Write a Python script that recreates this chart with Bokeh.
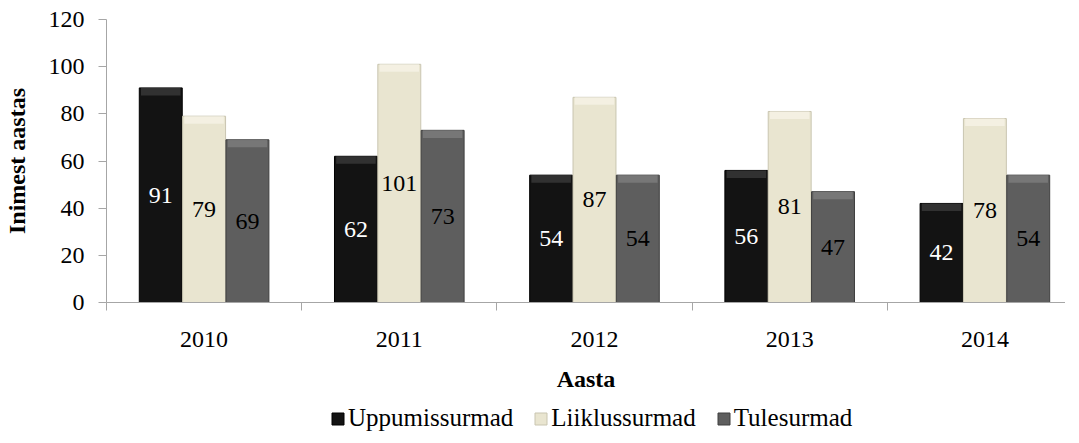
from bokeh.plotting import figure
from bokeh.models import (ColumnDataSource, Range1d, FixedTicker, Legend, LegendItem, LinearAxis)
from bokeh.layouts import column
from bokeh.core.properties import value
from bokeh.embed import file_html
from bokeh.resources import INLINE

years = ["2010", "2011", "2012", "2013", "2014"]
series_names = ["Uppumissurmad", "Liiklussurmad", "Tulesurmad"]
uppumissurmad = [91, 62, 54, 56, 42]
liiklussurmad = [79, 101, 87, 81, 78]
tulesurmad = [69, 73, 54, 47, 54]
y_ticks = [0, 20, 40, 60, 80, 100, 120]

FONT = "Liberation Serif"
colors = ["#131313", "#e9e5d0", "#5e5e5e"]
edge_colors = ["#000000", "#c9c5b0", "#3f3f3f"]
bevel_colors = ["#3a3a3a", "#f6f3e6", "#7d7d7d"]
label_colors = ["white", "black", "black"]
offsets = [-0.222, 0.0, 0.222]
bar_w = 0.22

p = figure(frame_width=959, frame_height=283, output_backend="svg", toolbar_location=None,
           x_range=Range1d(0, 4.913), y_range=Range1d(0, 120),
           min_border_left=104, min_border_right=0, min_border_top=19, min_border_bottom=87,
           x_axis_type=None, y_axis_type=None)
p.grid.visible = False
p.outline_line_color = None
p.background_fill_color = "white"
p.border_fill_color = "white"

centers = [i + 0.5 for i in range(len(years))]

for k, vals in enumerate([uppumissurmad, liiklussurmad, tulesurmad]):
    xs = [c + offsets[k] for c in centers]
    src = ColumnDataSource(dict(x=xs, top=vals, mid=[v / 2 for v in vals],
                                bev=[v - 3.2 for v in vals], lab=[str(v) for v in vals]))
    p.vbar(x="x", top="top", bottom=0, width=bar_w, source=src,
           fill_color=colors[k], line_color=edge_colors[k], line_width=1)
    p.vbar(x="x", top="top", bottom="bev", width=bar_w * 0.92, source=src,
           fill_color=bevel_colors[k], line_color=None, fill_alpha=0.8)
    p.text(x="x", y="mid", text="lab", source=src, text_align="center",
           text_baseline="middle", text_font=value(FONT), text_font_size="24px",
           text_color=label_colors[k])

yaxis = LinearAxis(ticker=FixedTicker(ticks=y_ticks), axis_label="Inimest aastas")
yaxis.axis_line_color = "#a6a6a6"
yaxis.major_tick_line_color = "#a6a6a6"
yaxis.major_tick_out = 8
yaxis.major_tick_in = 0
yaxis.minor_tick_line_color = None
yaxis.major_label_standoff = 14
yaxis.major_label_text_font = FONT
yaxis.major_label_text_font_size = "24px"
yaxis.major_label_text_color = "black"
yaxis.axis_label_text_font = FONT
yaxis.axis_label_text_font_size = "24px"
yaxis.axis_label_text_font_style = "bold"
yaxis.axis_label_text_color = "black"
yaxis.axis_label_standoff = 16
p.add_layout(yaxis, "left")

xaxis = LinearAxis(ticker=FixedTicker(ticks=centers, minor_ticks=[0, 1, 2, 3, 4, 5]),
                   axis_label="Aasta")
xaxis.major_label_overrides = {c: y for c, y in zip(centers, years)}
xaxis.axis_line_color = "#a6a6a6"
xaxis.major_tick_line_color = None
xaxis.major_tick_out = 0
xaxis.major_tick_in = 0
xaxis.minor_tick_line_color = "#a6a6a6"
xaxis.minor_tick_out = 8
xaxis.minor_tick_in = 0
xaxis.major_label_standoff = 21
xaxis.major_label_text_font = FONT
xaxis.major_label_text_font_size = "24px"
xaxis.major_label_text_color = "black"
xaxis.axis_label_text_font = FONT
xaxis.axis_label_text_font_size = "24px"
xaxis.axis_label_text_font_style = "bold"
xaxis.axis_label_text_color = "black"
xaxis.axis_label_standoff = 16
p.add_layout(xaxis, "below")

# legend strip below the chart
p2 = figure(frame_width=1063, frame_height=38, output_backend="svg", toolbar_location=None,
            x_range=Range1d(0, 1), y_range=Range1d(0, 1),
            min_border_left=0, min_border_right=0, min_border_top=0, min_border_bottom=0,
            x_axis_type=None, y_axis_type=None)
p2.grid.visible = False
p2.outline_line_color = None
leg_renderers = []
for k, n in enumerate(series_names):
    r = p2.vbar(x=[-5], top=[-5], bottom=[-6], width=0.1,
                fill_color=colors[k], line_color=edge_colors[k])
    leg_renderers.append(r)
legend = Legend(items=[LegendItem(label=n, renderers=[r]) for n, r in zip(series_names, leg_renderers)],
                orientation="horizontal", location=(330, 0))
legend.label_text_font = FONT
legend.label_text_font_size = "25px"
legend.label_text_color = "black"
legend.glyph_width = 15
legend.glyph_height = 15
legend.label_standoff = 3
legend.spacing = 20
legend.padding = 0
legend.margin = 0
legend.border_line_color = None
legend.background_fill_color = None
p2.add_layout(legend, "center")

layout = column(p, p2, spacing=0)
open("out.html", "w").write(file_html(layout, INLINE))
